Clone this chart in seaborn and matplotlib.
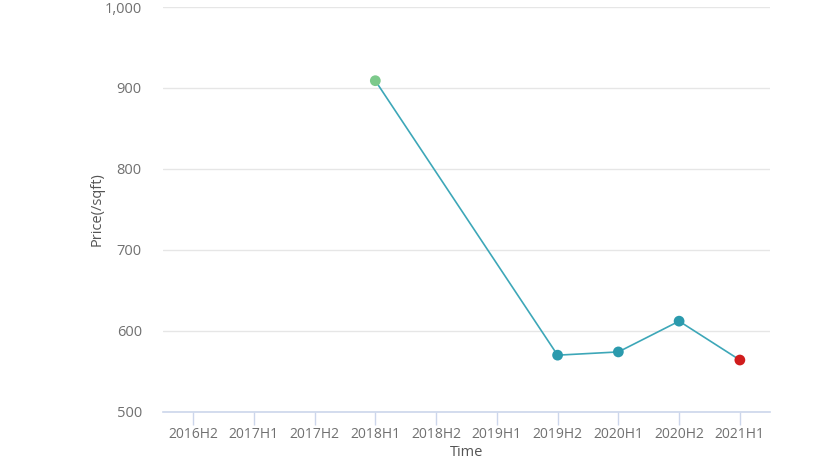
import pandas as pd
import matplotlib.pyplot as plt
import seaborn as sns

sns.set_style("white")
plt.rcParams['font.family'] = ['Open Sans', 'DejaVu Sans']

periods = ["2016H2", "2017H1", "2017H2", "2018H1", "2018H2",
           "2019H1", "2019H2", "2020H1", "2020H2", "2021H1"]
price_periods = ["2018H1", "2019H2", "2020H1", "2020H2", "2021H1"]
prices = [909, 570, 574, 612, 564]
point_kind = ["first", "mid", "mid", "mid", "last"]
point_colors = {"first": "#7cc98b", "mid": "#2b9aad", "last": "#d01c1c"}

df = pd.DataFrame({"period": price_periods, "price": prices, "kind": point_kind})
df["pos"] = df["period"].map({p: i for i, p in enumerate(periods)})

fig = plt.figure(figsize=(8.3, 4.68), dpi=100)
ax = fig.add_axes([0.196, 0.12, 0.732, 0.865])

sns.lineplot(data=df, x="pos", y="price", color="#3da7b8", linewidth=1.2, ax=ax, zorder=2)
sns.scatterplot(data=df, x="pos", y="price", hue="kind", palette=point_colors,
                s=60, edgecolor="none", legend=False, ax=ax, zorder=3)

ax.set_xlim(-0.5, len(periods) - 0.5)
ax.set_ylim(500, 1000)
ax.set_xticks(range(len(periods)))
ax.set_xticklabels(periods)
ax.set_yticks([500, 600, 700, 800, 900, 1000])
ax.set_yticklabels(["500", "600", "700", "800", "900", "1,000"])
ax.yaxis.grid(True, color="#e6e6e6", linewidth=1)
ax.set_axisbelow(True)

for s in ["top", "right", "left"]:
    ax.spines[s].set_visible(False)
ax.spines["bottom"].set_color("#ccd6eb")
ax.spines["bottom"].set_linewidth(1.2)

ax.tick_params(axis="x", bottom=True, direction="out", length=9, width=1,
               color="#ccd6eb", labelcolor="#707070", labelsize=10, pad=2)
ax.tick_params(axis="y", left=False, length=0, labelcolor="#707070", labelsize=10.5, pad=15)

ax.set_xlabel("Time", color="#555555", fontsize=10.5, labelpad=2)
ax.set_ylabel("Price(/sqft)", color="#555555", fontsize=10.5, labelpad=0)

fig.savefig("out.png", dpi=100)
